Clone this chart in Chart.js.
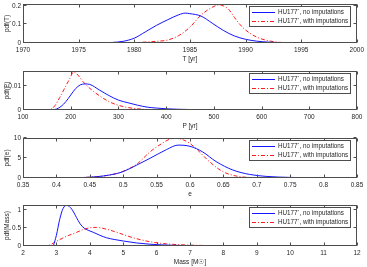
<!DOCTYPE html>
<html><head><meta charset="utf-8">
<script src="https://cdn.jsdelivr.net/npm/chart.js@4/dist/chart.umd.min.js"></script>
<style>
html,body{margin:0;padding:0;background:#fff;width:367px;height:267px;overflow:hidden;position:relative}
canvas{position:absolute;left:0}
</style></head><body>
<canvas id="c1"></canvas><canvas id="c2"></canvas><canvas id="c3"></canvas><canvas id="c4"></canvas>
<script>
// ---------------- data ----------------
const seriesLabels = ['HU177*, no imputations', 'HU177*, with imputations'];

// Panel 1: orbital period epoch T [yr]
const tXTicks = [1970, 1975, 1980, 1985, 1990, 1995, 2000];
const tYTicks = [0, 0.1, 0.2];
const tBlueX = [1973.6, 1976, 1977, 1978, 1979, 1980, 1981, 1982, 1983, 1984, 1984.6, 1985, 1986, 1987, 1988, 1989, 1990, 1991, 1992, 1993, 1994, 1996];
const tBlueY = [0, 0.0005, 0.001, 0.003, 0.009, 0.026, 0.06, 0.095, 0.125, 0.152, 0.161, 0.158, 0.145, 0.107, 0.068, 0.038, 0.02, 0.01, 0.005, 0.002, 0.001, 0];
const tRedX = [1977.5, 1979, 1980, 1981, 1982, 1983, 1984, 1985, 1986, 1987, 1987.6, 1988, 1988.5, 1989, 1989.5, 1990, 1991, 1992, 1993, 1994, 1996];
const tRedY = [0, 0.0008, 0.002, 0.005, 0.009, 0.016, 0.04, 0.085, 0.15, 0.192, 0.205, 0.2, 0.18, 0.138, 0.1, 0.07, 0.032, 0.013, 0.004, 0.001, 0];

// Panel 2: period P [yr]
const pXTicks = [100, 200, 300, 400, 500, 600, 700, 800];
const pYTicks = [0, 0.01];
const pBlueX = [160, 170, 180, 190, 200, 210, 220, 230, 240, 260, 280, 300, 320, 340, 360, 380, 400, 450, 500, 600, 735];
const pBlueY = [0, 0.0004, 0.0015, 0.0035, 0.0062, 0.0088, 0.0104, 0.0108, 0.0106, 0.0083, 0.006, 0.0041, 0.003, 0.002, 0.0012, 0.0008, 0.0005, 0.0002, 0.0001, 0.00003, 0];
const pRedX = [146, 160, 167, 177, 188, 198, 206, 215, 226, 247, 261, 280, 296, 315, 331, 360, 400, 450];
const pRedY = [0, 0.0005, 0.0018, 0.0052, 0.0093, 0.013, 0.0158, 0.0145, 0.0117, 0.0078, 0.0058, 0.0035, 0.0022, 0.0012, 0.0007, 0.0002, 0.00005, 0];

// Panel 3: eccentricity e
const eXTicks = [0.35, 0.4, 0.45, 0.5, 0.55, 0.6, 0.65, 0.7, 0.75, 0.8, 0.85];
const eYTicks = [0, 5, 10];
const eBlueX = [0.35, 0.4, 0.43, 0.45, 0.47, 0.49, 0.5, 0.52, 0.54, 0.565, 0.582, 0.6, 0.619, 0.639, 0.664, 0.689, 0.714, 0.75, 0.78, 0.822];
const eBlueY = [0, 0.01, 0.05, 0.2, 0.5, 1.1, 1.6, 3.2, 4.9, 7.1, 8.2, 7.9, 6.5, 4.1, 2.0, 0.9, 0.4, 0.15, 0.05, 0];
const eRedX = [0.35, 0.42, 0.45, 0.47, 0.49, 0.5, 0.52, 0.54, 0.555, 0.57, 0.578, 0.59, 0.6, 0.61, 0.629, 0.649, 0.669, 0.69, 0.72];
const eRedY = [0, 0.02, 0.2, 0.5, 1.1, 1.7, 3.4, 6.5, 8.3, 9.7, 9.9, 9.5, 8.6, 7.2, 4.1, 1.6, 0.5, 0.12, 0];

// Panel 4: total mass [Msun]
const mXTicks = [2, 3, 4, 5, 6, 7, 8, 9, 10, 11, 12];
const mYTicks = [0, 0.5, 1];
const mBlueX = [2.91, 3.0, 3.1, 3.2, 3.31, 3.46, 3.6, 3.71, 3.83, 3.95, 4.1, 4.3, 4.5, 4.75, 5.0, 5.4, 5.8, 6.5, 7.5, 9, 11.4];
const mBlueY = [0, 0.3, 0.75, 1.05, 1.14, 1.03, 0.8, 0.62, 0.5, 0.44, 0.385, 0.3, 0.23, 0.18, 0.14, 0.085, 0.05, 0.02, 0.008, 0.002, 0];
const mRedX = [2.6, 2.8, 3.0, 3.3, 3.6, 3.83, 4.0, 4.2, 4.5, 4.8, 5.3, 5.8, 6.3, 7.0, 8, 9, 11];
const mRedY = [0, 0.03, 0.13, 0.27, 0.38, 0.47, 0.51, 0.52, 0.47, 0.385, 0.23, 0.12, 0.06, 0.025, 0.007, 0.002, 0];

// ---------------- drawing ----------------
const FONT = 'Liberation Sans, Arial, sans-serif';
const TXT = '#262626';
const AXC = '#4d4d4d';
const BLUE = '#1515ff';
const RED = '#ff1a1a';
const DASHDOT = [4, 2, 1, 2];

const frameAndLegend = {
  id: 'frameAndLegend',
  afterDatasetsDraw(chart) {
    const {ctx, chartArea: a, scales: {x, y}} = chart;
    ctx.save();
    ctx.strokeStyle = AXC; ctx.lineWidth = 1; ctx.setLineDash([]);
    const L = Math.round(a.left) + 0.5, R = Math.round(a.right) - 0.5, T = Math.round(a.top) + 0.5, B = Math.round(a.bottom) - 0.5;
    ctx.strokeRect(L, T, R - L, B - T);
    const tl = 3;
    ctx.beginPath();
    x.ticks.forEach(t => {
      const px = Math.round(x.getPixelForValue(t.value)) + 0.5;
      ctx.moveTo(px, B); ctx.lineTo(px, B - tl);
      ctx.moveTo(px, T); ctx.lineTo(px, T + tl);
    });
    y.ticks.forEach(t => {
      const py = Math.round(y.getPixelForValue(t.value)) - 0.5;
      ctx.moveTo(L, py); ctx.lineTo(L + tl, py);
      ctx.moveTo(R, py); ctx.lineTo(R - tl, py);
    });
    ctx.stroke();

    // legend box
    const fs = 6.3;
    const bw = 101, bh = 20;
    const bx = Math.round(a.right) - 7 - bw, by = Math.round(a.top) + 2;
    ctx.fillStyle = '#fff';
    ctx.fillRect(bx, by, bw, bh);
    ctx.strokeStyle = AXC;
    ctx.strokeRect(bx + 0.5, by + 0.5, bw, bh);
    chart.data.datasets.forEach((ds, i) => {
      const ry = by + 6 + i * 9;
      ctx.strokeStyle = ds.borderColor; ctx.lineWidth = 1;
      ctx.setLineDash(ds.borderDash || []);
      ctx.beginPath(); ctx.moveTo(bx + 3, ry + 0.5); ctx.lineTo(bx + 26, ry + 0.5); ctx.stroke();
      ctx.setLineDash([]);
      ctx.fillStyle = TXT;
      ctx.textBaseline = 'middle';
      const parts = ds.label.split('*');
      let tx = bx + 29;
      ctx.font = fs + 'px ' + FONT;
      ctx.fillText(parts[0], tx, ry + 0.5);
      tx += ctx.measureText(parts[0]).width;
      ctx.font = (fs * 0.65) + 'px ' + FONT;
      ctx.fillText('*', tx, ry - 1.5);
      tx += ctx.measureText('*').width + 0.3;
      ctx.font = fs + 'px ' + FONT;
      ctx.fillText(parts[1], tx, ry + 0.5);
    });
    ctx.restore();
  }
};

function pts(xs, ys) { return xs.map((v, i) => ({x: v, y: ys[i]})); }

function makePanel(id, top, plotH, xT, yT, yMax, xTitle, yTitle, bx, by, rx, ry) {
  const padTop = 5, xH = 24;
  const cv = document.getElementById(id);
  cv.width = 367; cv.height = padTop + plotH + xH;
  cv.style.top = (top - padTop) + 'px';
  cv.style.width = '367px'; cv.style.height = cv.height + 'px';
  new Chart(cv, {
    type: 'line',
    data: {
      datasets: [
        {label: seriesLabels[0], data: pts(bx, by), borderColor: BLUE, borderWidth: 1, pointRadius: 0, cubicInterpolationMode: 'monotone', fill: false},
        {label: seriesLabels[1], data: pts(rx, ry), borderColor: RED, borderWidth: 1, borderDash: DASHDOT, pointRadius: 0, cubicInterpolationMode: 'monotone', fill: false}
      ]
    },
    options: {
      responsive: false, animation: false, devicePixelRatio: 1,
      layout: {padding: {top: padTop, left: 0, right: 10, bottom: 0}},
      plugins: {legend: {display: false}, tooltip: {enabled: false}},
      scales: {
        x: {
          type: 'linear', min: xT[0], max: xT[xT.length - 1],
          grid: {display: false, drawTicks: false}, border: {display: false},
          afterBuildTicks: s => { s.ticks = xT.map(v => ({value: v})); },
          afterFit: s => { s.height = xH; },
          ticks: {autoSkip: false, maxRotation: 0, minRotation: 0, padding: 3, color: TXT, font: {family: FONT, size: 6.5}, callback: v => String(v)},
          title: {display: true, text: xTitle, color: TXT, font: {family: FONT, size: 6.5}, padding: {top: 0, bottom: 4}}
        },
        y: {
          type: 'linear', min: 0, max: yMax,
          grid: {display: false, drawTicks: false}, border: {display: false},
          afterBuildTicks: s => { s.ticks = yT.map(v => ({value: v})); },
          afterFit: s => { s.width = 23; },
          ticks: {autoSkip: false, padding: 2, color: TXT, font: {family: FONT, size: 6.5}, callback: v => String(v)},
          title: {display: true, text: yTitle, color: TXT, font: {family: FONT, size: 6.5}, padding: {top: 3, bottom: 0}}
        }
      }
    },
    plugins: [frameAndLegend]
  });
}

makePanel('c1', 3, 40, tXTicks, tYTicks, 0.2105, 'T [yr]', 'pdf(T)', tBlueX, tBlueY, tRedX, tRedY);
makePanel('c2', 70, 40, pXTicks, pYTicks, 0.0162, 'P [yr]', 'pdf(P)', pBlueX, pBlueY, pRedX, pRedY);
makePanel('c3', 137, 41, eXTicks, eYTicks, 10, 'e', 'pdf(e)', eBlueX, eBlueY, eRedX, eRedY);
makePanel('c4', 204, 42, mXTicks, mYTicks, 1.15, 'Mass [M\u2609]', 'pdf(Mass)', mBlueX, mBlueY, mRedX, mRedY);
</script>
</body></html>
